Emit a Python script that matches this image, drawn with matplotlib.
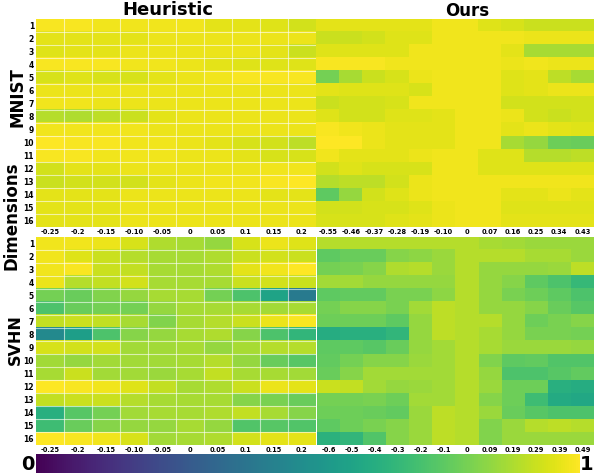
import numpy as np
import matplotlib
matplotlib.use("Agg")
import matplotlib.pyplot as plt
from matplotlib.cm import ScalarMappable
from matplotlib.colors import Normalize

# Dimension labels (rows)
dims = [str(i) for i in range(1, 17)]

# x tick labels
heur_ticks = ["-0.25", "-0.2", "-0.15", "-0.10", "-0.05", "0", "0.05", "0.1", "0.15", "0.2"]
ours_mnist_ticks = ["-0.55", "-0.46", "-0.37", "-0.28", "-0.19", "-0.10", "0", "0.07", "0.16", "0.25", "0.34", "0.43"]
ours_svhn_ticks = ["-0.6", "-0.5", "-0.4", "-0.3", "-0.2", "-0.1", "0", "0.09", "0.19", "0.29", "0.39", "0.49"]

heur_mnist = [
    [0.99, 0.99, 0.98, 0.98, 0.98, 0.98, 0.96, 0.96, 0.95, 0.93],
    [0.96, 0.96, 0.96, 0.96, 0.97, 0.97, 0.97, 0.97, 0.97, 0.97],
    [0.95, 0.96, 0.96, 0.97, 0.97, 0.97, 0.97, 0.97, 0.96, 0.92],
    [0.99, 0.99, 0.99, 0.98, 0.98, 0.97, 0.96, 0.95, 0.95, 0.95],
    [0.94, 0.95, 0.94, 0.94, 0.96, 0.97, 0.98, 0.99, 0.99, 0.99],
    [0.97, 0.97, 0.97, 0.97, 0.97, 0.97, 0.97, 0.97, 0.97, 0.97],
    [0.98, 0.98, 0.97, 0.97, 0.97, 0.97, 0.97, 0.97, 0.97, 0.97],
    [0.89, 0.88, 0.90, 0.92, 0.96, 0.97, 0.97, 0.97, 0.97, 0.97],
    [0.98, 0.98, 0.98, 0.98, 0.97, 0.97, 0.97, 0.97, 0.97, 0.97],
    [1.00, 0.99, 0.99, 0.98, 0.98, 0.97, 0.96, 0.94, 0.93, 0.90],
    [0.99, 0.99, 0.98, 0.98, 0.98, 0.97, 0.97, 0.96, 0.94, 0.94],
    [0.93, 0.96, 0.96, 0.97, 0.97, 0.97, 0.97, 0.97, 0.98, 0.98],
    [0.92, 0.93, 0.93, 0.93, 0.96, 0.97, 0.98, 0.98, 0.99, 1.00],
    [0.96, 0.96, 0.96, 0.97, 0.97, 0.97, 0.97, 0.97, 0.96, 0.96],
    [0.96, 0.96, 0.96, 0.97, 0.97, 0.97, 0.97, 0.97, 0.97, 0.97],
    [0.96, 0.96, 0.96, 0.97, 0.97, 0.97, 0.97, 0.97, 0.97, 0.97],
]

ours_mnist = [
    [0.96, 0.96, 0.96, 0.96, 0.96, 0.98, 0.98, 0.95, 0.94, 0.92, 0.92, 0.92],
    [0.92, 0.92, 0.93, 0.95, 0.95, 0.98, 0.98, 0.98, 0.98, 0.97, 0.97, 0.97],
    [0.95, 0.95, 0.95, 0.95, 0.98, 0.98, 0.98, 0.98, 0.96, 0.87, 0.87, 0.87],
    [0.99, 0.99, 0.99, 0.98, 0.98, 0.98, 0.98, 0.98, 0.97, 0.98, 0.97, 0.97],
    [0.79, 0.87, 0.92, 0.94, 0.97, 0.98, 0.98, 0.98, 0.95, 0.96, 0.90, 0.87],
    [0.96, 0.95, 0.95, 0.95, 0.94, 0.98, 0.98, 0.98, 0.95, 0.96, 0.97, 0.97],
    [0.92, 0.93, 0.93, 0.94, 0.98, 0.98, 0.98, 0.98, 0.93, 0.93, 0.93, 0.93],
    [0.95, 0.93, 0.93, 0.95, 0.95, 0.96, 0.98, 0.98, 0.97, 0.93, 0.92, 0.93],
    [0.99, 0.98, 0.97, 0.96, 0.96, 0.96, 0.98, 0.98, 0.96, 0.97, 0.96, 0.95],
    [1.00, 1.00, 0.97, 0.96, 0.96, 0.96, 0.98, 0.98, 0.87, 0.84, 0.78, 0.77],
    [0.98, 0.96, 0.96, 0.96, 0.97, 0.98, 0.98, 0.95, 0.95, 0.89, 0.89, 0.90],
    [0.93, 0.95, 0.94, 0.94, 0.94, 0.98, 0.98, 0.95, 0.95, 0.95, 0.95, 0.95],
    [0.89, 0.90, 0.90, 0.93, 0.97, 0.98, 0.98, 0.98, 0.98, 0.98, 0.98, 0.98],
    [0.75, 0.84, 0.93, 0.95, 0.97, 0.98, 0.98, 0.98, 0.96, 0.96, 0.97, 0.96],
    [0.93, 0.93, 0.94, 0.94, 0.95, 0.97, 0.98, 0.98, 0.95, 0.95, 0.95, 0.95],
    [0.94, 0.94, 0.94, 0.95, 0.96, 0.97, 0.98, 0.98, 0.96, 0.96, 0.96, 0.96],
]

heur_svhn = [
    [0.98, 0.98, 0.97, 0.94, 0.88, 0.87, 0.84, 0.94, 0.97, 0.95],
    [0.98, 0.95, 0.92, 0.89, 0.87, 0.87, 0.88, 0.92, 0.93, 0.92],
    [0.98, 0.99, 0.92, 0.91, 0.87, 0.87, 0.88, 0.96, 0.98, 1.00],
    [0.97, 0.89, 0.91, 0.93, 0.87, 0.87, 0.87, 0.92, 0.93, 0.92],
    [0.79, 0.77, 0.81, 0.84, 0.87, 0.87, 0.79, 0.72, 0.58, 0.41],
    [0.72, 0.77, 0.79, 0.79, 0.84, 0.87, 0.87, 0.87, 0.86, 0.87],
    [0.91, 0.92, 0.91, 0.87, 0.81, 0.87, 0.89, 0.92, 0.97, 0.99],
    [0.47, 0.56, 0.72, 0.82, 0.84, 0.87, 0.88, 0.82, 0.72, 0.66],
    [0.94, 0.93, 0.93, 0.86, 0.86, 0.87, 0.84, 0.87, 0.89, 0.89],
    [0.86, 0.84, 0.86, 0.86, 0.86, 0.87, 0.89, 0.84, 0.77, 0.74],
    [0.87, 0.92, 0.86, 0.86, 0.85, 0.87, 0.91, 0.87, 0.87, 0.86],
    [1.00, 0.99, 0.98, 0.95, 0.91, 0.87, 0.88, 0.92, 0.97, 0.96],
    [0.91, 0.92, 0.92, 0.89, 0.87, 0.87, 0.87, 0.82, 0.80, 0.77],
    [0.63, 0.74, 0.79, 0.86, 0.87, 0.87, 0.88, 0.91, 0.87, 0.82],
    [0.69, 0.77, 0.82, 0.84, 0.84, 0.87, 0.84, 0.73, 0.74, 0.73],
    [1.00, 0.99, 0.98, 0.94, 0.86, 0.87, 0.88, 0.93, 0.96, 0.96],
]

ours_svhn = [
    [0.89, 0.89, 0.89, 0.89, 0.89, 0.89, 0.89, 0.87, 0.86, 0.85, 0.85, 0.85],
    [0.75, 0.77, 0.77, 0.82, 0.83, 0.85, 0.89, 0.89, 0.89, 0.87, 0.87, 0.85],
    [0.79, 0.80, 0.82, 0.88, 0.89, 0.85, 0.89, 0.84, 0.84, 0.84, 0.85, 0.90],
    [0.86, 0.86, 0.84, 0.84, 0.84, 0.84, 0.89, 0.84, 0.82, 0.75, 0.72, 0.67],
    [0.75, 0.76, 0.76, 0.80, 0.80, 0.83, 0.89, 0.84, 0.80, 0.78, 0.75, 0.72],
    [0.79, 0.82, 0.82, 0.80, 0.86, 0.90, 0.89, 0.84, 0.84, 0.82, 0.77, 0.74],
    [0.78, 0.78, 0.78, 0.75, 0.84, 0.90, 0.89, 0.89, 0.84, 0.78, 0.80, 0.82],
    [0.62, 0.63, 0.63, 0.66, 0.84, 0.90, 0.89, 0.87, 0.84, 0.80, 0.80, 0.79],
    [0.75, 0.75, 0.74, 0.77, 0.84, 0.86, 0.89, 0.87, 0.85, 0.85, 0.85, 0.84],
    [0.76, 0.79, 0.82, 0.82, 0.85, 0.86, 0.89, 0.81, 0.75, 0.76, 0.73, 0.73],
    [0.77, 0.82, 0.86, 0.86, 0.86, 0.86, 0.89, 0.84, 0.72, 0.72, 0.74, 0.76],
    [0.92, 0.91, 0.86, 0.84, 0.85, 0.86, 0.89, 0.85, 0.78, 0.78, 0.63, 0.62],
    [0.79, 0.79, 0.80, 0.78, 0.86, 0.86, 0.89, 0.82, 0.78, 0.69, 0.61, 0.60],
    [0.78, 0.78, 0.77, 0.76, 0.85, 0.90, 0.89, 0.85, 0.77, 0.74, 0.72, 0.72],
    [0.75, 0.78, 0.80, 0.82, 0.85, 0.90, 0.89, 0.81, 0.85, 0.89, 0.90, 0.89],
    [0.64, 0.66, 0.73, 0.82, 0.85, 0.90, 0.89, 0.81, 0.85, 0.85, 0.85, 0.85],
]

W, H = 594, 473
fig = plt.figure(figsize=(W / 100, H / 100), dpi=100)
CMAP = "viridis"


def px_axes(x0, y0, x1, y1):
    # pixel box (top-left origin) -> figure axes
    return fig.add_axes([x0 / W, 1 - y1 / H, (x1 - x0) / W, (y1 - y0) / H])


def draw_panel(ax, data, xlabels, show_rows, grid):
    arr = np.array(data)
    ax.imshow(arr, cmap=CMAP, vmin=0, vmax=1, aspect="auto", interpolation="nearest")
    ax.set_xticks(range(arr.shape[1]))
    ax.set_xticklabels(xlabels, fontsize=4.8, fontweight="bold")
    if show_rows:
        ax.set_yticks(range(arr.shape[0]))
        ax.set_yticklabels(dims, fontsize=5.5, fontweight="bold")
    else:
        ax.set_yticks([])
    ax.tick_params(length=0, pad=1.5)
    if grid:
        for k in range(1, arr.shape[1]):
            ax.axvline(k - 0.5, color="white", lw=0.8, alpha=0.6)
        for k in range(1, arr.shape[0]):
            ax.axhline(k - 0.5, color="white", lw=0.8, alpha=0.6)
    for s in ax.spines.values():
        s.set_visible(False)


ax1 = px_axes(36, 19, 316, 227)
draw_panel(ax1, heur_mnist, heur_ticks, True, True)
ax2 = px_axes(316, 19, 594, 227)
draw_panel(ax2, ours_mnist, ours_mnist_ticks, False, False)
ax3 = px_axes(36, 237, 316, 445)
draw_panel(ax3, heur_svhn, heur_ticks, True, True)
ax4 = px_axes(317, 237, 594, 445)
draw_panel(ax4, ours_svhn, ours_svhn_ticks, False, False)

# colorbar strip
cax = px_axes(36, 454, 580, 473)
cb = fig.colorbar(ScalarMappable(norm=Normalize(0, 1), cmap=CMAP), cax=cax, orientation="horizontal")
cb.set_ticks([])
cb.outline.set_visible(False)

fig.text(168 / W, 1 - 10 / H, "Heuristic", ha="center", va="center", fontsize=13, fontweight="bold")
fig.text(467 / W, 1 - 11 / H, "Ours", ha="center", va="center", fontsize=12, fontweight="bold")
fig.text(17 / W, 1 - 97 / H, "MNIST", ha="center", va="center", rotation=90, fontsize=12, fontweight="bold")
fig.text(12 / W, 1 - 216 / H, "Dimensions", ha="center", va="center", rotation=90, fontsize=12, fontweight="bold")
fig.text(15 / W, 1 - 340 / H, "SVHN", ha="center", va="center", rotation=90, fontsize=11.5, fontweight="bold")
fig.text(28 / W, 1 - 464 / H, "0", ha="center", va="center", fontsize=14, fontweight="bold")
fig.text(587 / W, 1 - 464 / H, "1", ha="center", va="center", fontsize=14, fontweight="bold")

fig.savefig("out.png", dpi=100, facecolor="white")
